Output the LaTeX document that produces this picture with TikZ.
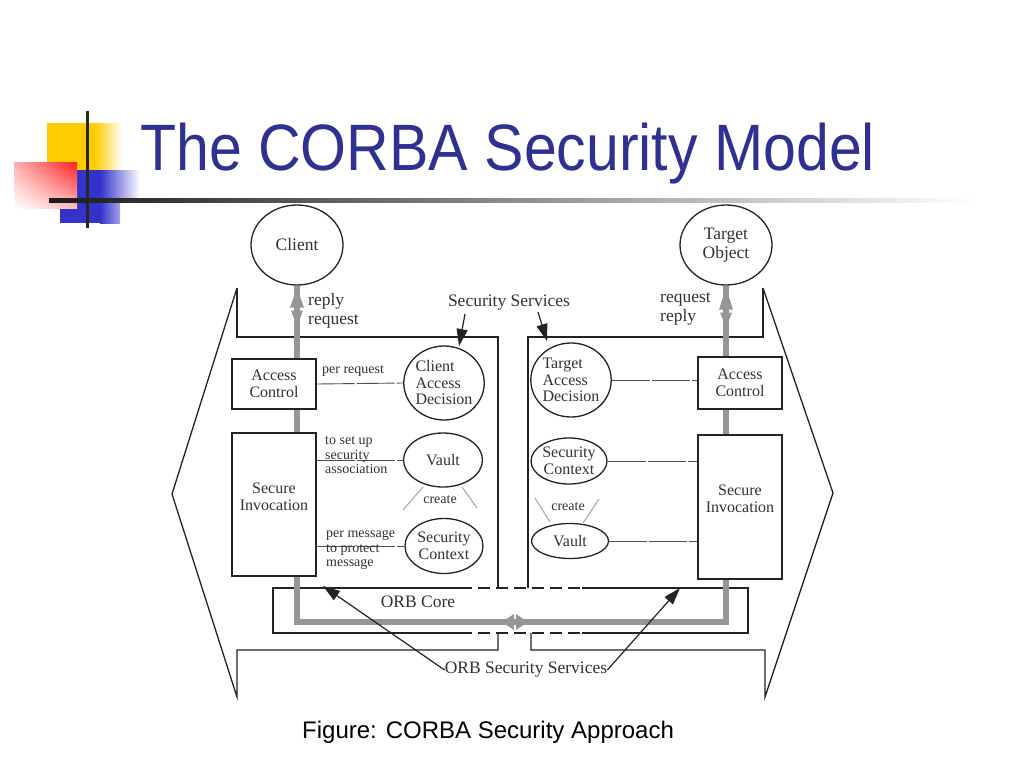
\documentclass[tikz,border=0pt]{standalone}
\usepackage{fontspec}
\setmainfont{Liberation Serif}
\newfontfamily\sansf{Liberation Sans}
\usetikzlibrary{shapes.geometric,arrows.meta,calc,shadings}
\definecolor{titleblue}{RGB}{46,49,146}
\definecolor{lyellow}{RGB}{255,204,0}
\definecolor{lblue}{RGB}{51,51,204}
\definecolor{lred}{RGB}{255,30,30}
\definecolor{ink}{RGB}{35,35,35}
\definecolor{txt}{RGB}{50,50,50}
\definecolor{pipe}{RGB}{150,150,150}
\begin{document}
\begin{tikzpicture}[x=1pt,y=-1pt,
 outline/.style={draw=ink,line width=1.3pt,line join=miter},
 ell/.style={ellipse,draw=ink,line width=1.3pt,fill=white,inner sep=0pt,text=txt,align=left,font=\fontsize{16}{16.5}\selectfont},
 bigell/.style={ellipse,draw=ink,line width=1.3pt,fill=white,inner sep=0pt,text=txt,align=center,font=\fontsize{17.5}{19}\selectfont},
 box/.style={rectangle,draw=ink,line width=1.2pt,fill=white,inner sep=0pt,text=txt,align=center,font=\fontsize{16}{16.5}\selectfont},
 link/.style={draw=ink!80,line width=0.9pt,dash pattern=on 38pt off 2pt},
 big/.style={font=\fontsize{17.5}{19}\selectfont,text=txt,inner sep=0pt},
 mid/.style={font=\fontsize{16}{16.5}\selectfont,text=txt,inner sep=0pt,align=center},
 small/.style={font=\fontsize{14}{14.5}\selectfont,text=txt,inner sep=0pt,align=left},
 ptr/.style={draw=ink,line width=1.2pt,-{Triangle[length=17pt,width=11pt]}},
 pipeline/.style={draw=pipe,line width=6pt},
 head/.style={fill=pipe},
 createline/.style={draw=black!35,line width=1pt},
 orbdash/.style={draw=ink,line width=1.2pt,dash pattern=on 12pt off 6pt}
]
\useasboundingbox (0,0) rectangle (1024,768);
\fill[white] (0,0) rectangle (1024,768);

% ---- logo ----
\fill[lyellow] (47,123) rectangle (95,170);
\shade[left color=lyellow,right color=white] (95,123) rectangle (122,170);
\fill[lblue] (60,170) rectangle (100,223);
\shade[left color=lblue,right color=white] (100,170) rectangle (140,200);
\shade[left color=lblue,right color=lblue!45] (100,200) rectangle (120,223);
\begin{scope}[yscale=-1]
\shade[upper right=lred, upper left=lred!35, lower right=lred!30, lower left=white] (14,-162) rectangle (77,-208);
\end{scope}
\draw[line width=3pt,black!85] (87,111) -- (87,228);
\shade[left color=black!90,right color=white] (49,198.5) rectangle (975,202.5);

% ---- title ----
\node[anchor=base west,inner sep=0pt,text=titleblue,font=\sansf\fontsize{65.6}{70}\selectfont] (title) at (140,170) {\scalebox{0.9}[1]{The CORBA Security Model}};

% ---- panel outlines ----
\draw[outline] (237,288) -- (237,337) -- (498,337) -- (498,588);
\draw[outline] (237,288) -- (172,494) -- (237,697) -- (237,650) -- (498,650) -- (498,633);
\draw[outline] (763,288) -- (763,337) -- (528,337) -- (528,588);
\draw[outline] (763,288) -- (833,493) -- (765,697) -- (765,650) -- (531,650) -- (531,633);

% ---- ORB core box ----
\draw[outline] (460,588) -- (273,588) -- (273,633) -- (460,633);
\draw[outline] (582,588) -- (748,588) -- (748,633) -- (582,633);
\draw[orbdash] (460,588) -- (582,588);
\draw[orbdash] (460,633) -- (582,633);

% ---- end nodes ----
\node[bigell,minimum width=92pt,minimum height=80pt] (client) at (297,245) {Client};
\node[bigell,minimum width=92pt,minimum height=80pt] (target) at (726,245) {Target\\Object};

% ---- gray invocation path ----
\coordinate (orbmid) at (515,622);
\draw[pipeline] (client.south) -- (client.south |- orbmid) -- (target.south |- orbmid) -- (target.south);
\fill[head] ($(client.south)+(0,2)$) -- ++(-7,20) -- ++(14,0) -- cycle;
\fill[head] ($(client.south)+(-6,25)$) -- ++(12,0) -- ++(-6,15) -- cycle;
\fill[head] ($(target.south)+(0,2)$) -- ++(-7,22) -- ++(14,0) -- cycle;
\fill[head] ($(target.south)+(-6,27)$) -- ++(12,0) -- ++(-6,15) -- cycle;
\fill[head] (502,622) -- (514,614) -- (514,630) -- cycle;
\fill[head] (528,622) -- (516,614) -- (516,630) -- cycle;

% ---- left components ----
\node[box,minimum width=84pt,minimum height=50pt] (acL) at (274,384) {Access\\Control};
\node[box,minimum width=84pt,minimum height=143pt] (siL) at (274,504.5) {};
\node[mid] (siLt) at (274,497) {Secure\\Invocation};
\node[ell,minimum width=78pt,minimum height=74pt] (cadL) at (444,383) {Client\\Access\\Decision};
\node[ell,align=center,minimum width=79pt,minimum height=54pt] (vaultL) at (443,460) {Vault};
\node[ell,align=center,minimum width=78pt,minimum height=55pt] (scL) at (444,546) {Security\\Context};

% ---- right components ----
\node[box,minimum width=84pt,minimum height=52pt] (acR) at (740,383) {Access\\Control};
\node[box,minimum width=84pt,minimum height=144pt] (siR) at (740,507) {};
\node[mid] (siRt) at (740,499) {Secure\\Invocation};
\node[ell,minimum width=78pt,minimum height=74pt] (tadR) at (571,380) {Target\\Access\\Decision};
\node[ell,align=center,minimum width=76pt,minimum height=46pt] (scR) at (569,461) {Security\\Context};
\node[ell,align=center,minimum width=77pt,minimum height=35pt] (vaultR) at (570,541) {Vault};

% ---- links ----
\draw[link] (acL.east) -- (cadL.west);
\draw[link] (vaultL.west -| siL.east) -- (vaultL.west);
\draw[link] (scL.west -| siL.east) -- (scL.west);
\draw[link] (tadR.east) -- (tadR.east -| acR.west);
\draw[link] (scR.east) -- (scR.east -| siR.west);
\draw[link] (vaultR.east) -- (vaultR.east -| siR.west);

% ---- link labels ----
\node[small,anchor=west] (lpr) at (322,371) {per request};
\node[small,anchor=west] (lsa) at (325,455.5) {to set up\\security\\association};
\node[small,anchor=west] (lpm) at (326,550) {per message\\to protect\\message};

% ---- create marks ----
\node[small] (crL) at (440,500) {create};
\node[small] (crR) at (568,507) {create};
\coordinate (cl1) at (403,510); \coordinate (cl2) at (423,487);
\coordinate (cl3) at (462,487); \coordinate (cl4) at (477,508);
\coordinate (cr1) at (535,498); \coordinate (cr2) at (550,522);
\coordinate (cr3) at (599,499); \coordinate (cr4) at (583,523);
\draw[createline] (cl1) -- (cl2);
\draw[createline] (cl3) -- (cl4);
\draw[createline] (cr1) -- (cr2);
\draw[createline] (cr3) -- (cr4);

% ---- request / reply labels ----
\node[big,anchor=west,align=left] (rrL) at (308,311) {reply\\request};
\node[big,anchor=west,align=left] (rrR) at (660,309) {request\\reply};

% ---- security services ----
\node[big] (ss) at (509,303) {Security Services};
\coordinate (ssA) at (459,346);
\coordinate (ssB) at (547,341);
\draw[ptr] (465,314) -- (ssA);
\draw[ptr] (538,312) -- (ssB);

% ---- ORB ----
\node[big] (orbcore) at (418,602) {ORB Core};
\node[big] (orbss) at (526,670) {ORB Security Services};
\coordinate (osA) at (323,586);
\coordinate (osB) at (680,588);
\draw[ptr] (orbss.west) -- (osA);
\draw[ptr] (orbss.east) -- (osB);

% ---- caption ----
\node[anchor=base west,inner sep=0pt,font=\sansf\fontsize{24}{26}\selectfont] (caption) at (302,738) {Figure: CORBA Security Approach};
\end{tikzpicture}
\end{document}
